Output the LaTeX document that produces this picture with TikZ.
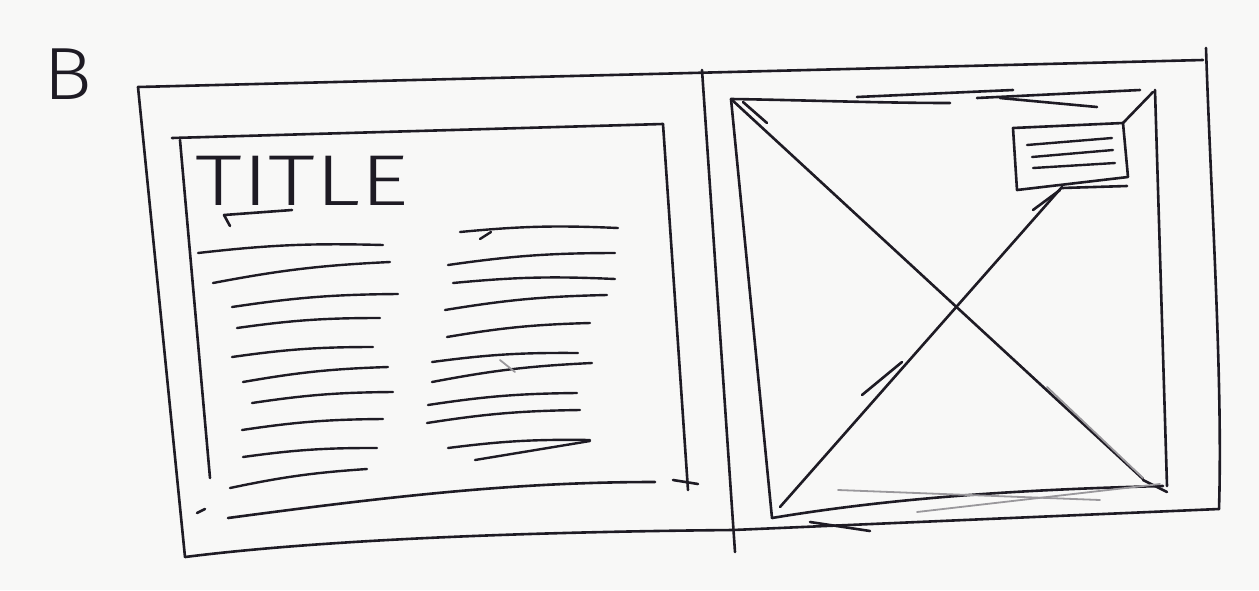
\documentclass[tikz,border=0pt]{standalone}
\usepackage{fontspec}
\newfontfamily\handfont{Fira Sans Light}
\definecolor{ink}{HTML}{1E1B24}
\definecolor{paper}{HTML}{F8F8F7}

\begin{document}
\begin{tikzpicture}[
    x=1pt,y=-1pt,
    pen/.style={draw=ink,line width=2.6pt,line cap=round,line join=round},
    textline/.style={draw=ink,line width=2.4pt,line cap=round},
    faint/.style={draw=ink!45,line width=1.8pt,line cap=round},
    letter/.style={font=\handfont,text=ink,inner sep=0pt}
]
\fill[paper] (0,0) rectangle (1259,590);
\useasboundingbox (0,0) rectangle (1259,590);

% Label of the sketch
\node[letter,font=\handfont\fontsize{74}{74}\selectfont,xscale=1.1] (lbl) at (68,74) {B};

% Outer frame and divider
\coordinate (fTL) at (138,87);
\coordinate (fTR) at (1203,60);
\coordinate (fBR) at (1219,509);
\coordinate (fBL) at (185,557);
\draw[pen] (fTL) -- (fTR);
\draw[pen] (fTL) -- (fBL);
\draw[pen] (1206,48) .. controls (1211,200) and (1223,380) .. (fBR);
\draw[pen] (fBL) .. controls (320,540) and (520,532) .. (733,530) -- (fBR);
\draw[pen] (702,70) -- (735,552);

% Left page: text box
\coordinate (tTL) at (172,138);
\coordinate (tTR) at (663,124);
\draw[pen] (tTL) -- (tTR);
\draw[pen] (180,140) -- (210,478);
\draw[pen] (tTR) -- (688,490);
\draw[pen] (228,518) .. controls (400,495) and (520,482) .. (655,482);
\draw[pen] (673,480) -- (698,484);
\draw[pen] (197,513) -- (205,509);

\node[letter,font=\handfont\fontsize{72}{72}\selectfont,xscale=1.31] (title) at (302,181) {TITLE};
\draw[pen] (230,226) -- (224,215) -- (292,210);

% left column
\foreach \xa/\ya/\xb/\yb in {198/253/383/245, 213/283/390/262, 232/307/398/294,
    237/328/380/318, 232/357/373/347, 243/382/388/367, 252/403/393/392,
    242/430/383/419, 243/457/377/448, 230/488/367/469}
  \draw[textline] (\xa,\ya) to[bend left=4] (\xb,\yb);

% right column
\foreach \xa/\ya/\xb/\yb in {460/232/618/228, 448/265/615/253, 453/283/615/279,
    445/310/607/295, 447/337/590/323, 432/362/578/353, 432/382/592/363,
    428/405/577/393, 427/423/580/410, 448/448/590/440}
  \draw[textline] (\xa,\ya) to[bend left=4] (\xb,\yb);
\draw[textline] (480,239) -- (491,232);
\draw[textline] (590,441) -- (578,443) -- (475,460);
\draw[faint] (500,360) -- (515,372);

% Right page: picture placeholder
\coordinate (pTL) at (731,99);
\coordinate (pTR) at (1155,90);
\coordinate (pBR) at (1167,486);
\coordinate (pBL) at (772,518);
\draw[pen] (pTL) .. controls (800,100) and (880,103) .. (950,103);
\draw[pen] (857,97) -- (1013,90);
\draw[pen] (977,98) -- (1140,90);
\draw[pen] (1000,98) -- (1097,107);
\draw[pen] (pTL) -- (pBL);
\draw[pen] (pTR) -- (pBR);
\draw[pen] (pBL) .. controls (880,500) and (1000,490) .. (1163,486);
\draw[pen] (1143,480) -- (1167,492);
\draw[faint] (838,490) -- (1100,500);
\draw[faint] (917,512) -- (1160,484);
\draw[pen] (810,522) -- (870,531);

% the cross
\draw[pen] (pTL) -- (1143,479);
\draw[pen] (780,507) -- (1062,187);
\draw[pen] (743,102) -- (767,123);
\draw[pen] (862,395) -- (902,362);
\draw[pen] (1033,210) -- (1060,190);
\draw[faint] (1047,387) -- (1143,478);

% caption bubble
\coordinate (cTL) at (1013,128);
\coordinate (cTR) at (1123,123);
\coordinate (cBR) at (1128,177);
\coordinate (cBL) at (1017,190);
\draw[pen] (cTL) -- (cTR) -- (cBR) -- (cBL) -- cycle;
\draw[pen] (cTR) -- (1153,92);
\draw[pen] (1062,188) -- (1127,186);
\foreach \xa/\ya/\xb/\yb in {1027/145/1112/138, 1032/157/1113/150, 1033/168/1115/163}
  \draw[textline] (\xa,\ya) -- (\xb,\yb);
\end{tikzpicture}
\end{document}
